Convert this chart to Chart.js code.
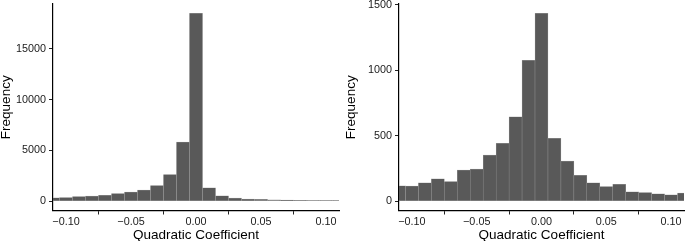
<!DOCTYPE html>
<html>
<head>
<meta charset="utf-8">
<script src="https://cdn.jsdelivr.net/npm/chart.js@4/dist/chart.umd.min.js"></script>
<style>
  html, body { margin: 0; padding: 0; background: #fff; }
  .panel { position: absolute; top: 0; height: 241px; }
  #p1 { left: 0; width: 345px; }
  #p2 { left: 345px; width: 340px; }
</style>
</head>
<body>
<div class="panel" id="p1"><canvas id="chartLeft"></canvas></div>
<div class="panel" id="p2"><canvas id="chartRight"></canvas></div>
<script>
// histogram bin centres (bin width 0.01)
const binCenters = [-0.11, -0.10, -0.09, -0.08, -0.07, -0.06, -0.05, -0.04, -0.03, -0.02, -0.01,
                    0.00, 0.01, 0.02, 0.03, 0.04, 0.05, 0.06, 0.07, 0.08, 0.09, 0.10, 0.11];

const leftFreq = [330, 340, 450, 500, 580, 740, 880, 1080, 1540, 2620, 5820,
                  18500, 1320, 530, 310, 200, 170, 115, 100, 75, 60, 40, 35];
const rightFreq = [117, 115, 140, 171, 150, 237, 245, 352, 441, 643, 1074,
                   1433, 480, 306, 196, 140, 110, 128, 71, 66, 56, 48, 61];

const xTicks = [-0.10, -0.05, 0.00, 0.05, 0.10];
const leftYTicks = [0, 5000, 10000, 15000];
const rightYTicks = [0, 500, 1000, 1500];

const xTitle = 'Quadratic Coefficient';
const yTitle = 'Frequency';

const FONT = '"Liberation Sans", Arial, Helvetica, sans-serif';

function fmtX(v) {
    return v.toFixed(2).replace('-', '\u2212');
}

function makeChart(id, freq, yTicks, padRight, yWidth) {
    const maxF = Math.max(...freq);
    const config = {
        type: 'bar',
        data: {
            datasets: [{
                data: binCenters.map((x, i) => ({x: x, y: freq[i]})),
                backgroundColor: '#595959',
                borderColor: '#9a9a9a',
                borderWidth: 0.5,
                borderSkipped: false,
                barPercentage: 1,
                categoryPercentage: 1
            }]
        },
        options: {
            responsive: true,
            maintainAspectRatio: false,
            animation: false,
            layout: {padding: {top: 4, right: padRight, bottom: 0, left: 0}},
            plugins: {legend: {display: false}, tooltip: {enabled: false}},
            scales: {
                x: {
                    type: 'linear',
                    offset: false,
                    min: -0.11,
                    max: 0.11,
                    afterBuildTicks: s => { s.ticks = xTicks.map(v => ({value: v})); },
                    afterFit: s => { s.height = 30.5; s.paddingLeft = 0; s.paddingRight = 0; },
                    grid: {display: true, drawOnChartArea: false, drawTicks: true, tickLength: 4, color: '#222', lineWidth: 1},
                    border: {display: true, color: '#000', width: 1.2},
                    ticks: {
                        padding: 1,
                        color: '#1a1a1a',
                        font: {family: FONT, size: 10.8},
                        maxRotation: 0,
                        callback: v => fmtX(v)
                    },
                    title: {
                        display: true,
                        text: xTitle,
                        color: '#000',
                        font: {family: FONT, size: 13.5, lineHeight: 1},
                        padding: {top: 0, bottom: -1}
                    }
                },
                y: {
                    min: -maxF * 0.05,
                    max: maxF * 1.05,
                    afterBuildTicks: s => { s.ticks = yTicks.map(v => ({value: v})); },
                    afterFit: s => { s.width = yWidth; s.paddingTop = 0; s.paddingBottom = 0; },
                    grid: {display: true, drawOnChartArea: false, drawTicks: true, tickLength: 4, color: '#222', lineWidth: 1},
                    border: {display: true, color: '#000', width: 1.2},
                    ticks: {
                        padding: 3,
                        color: '#1a1a1a',
                        font: {family: FONT, size: 10.8},
                        callback: v => String(v)
                    },
                    title: {
                        display: true,
                        text: yTitle,
                        color: '#000',
                        font: {family: FONT, size: 13.5, lineHeight: 1},
                        padding: {top: 0, bottom: 0}
                    }
                }
            }
        }
    };
    return new Chart(document.getElementById(id), config);
}

const leftChart = makeChart('chartLeft', leftFreq, leftYTicks, 6, 53);
const rightChart = makeChart('chartRight', rightFreq, rightYTicks, 1, 54);
</script>
</body>
</html>
